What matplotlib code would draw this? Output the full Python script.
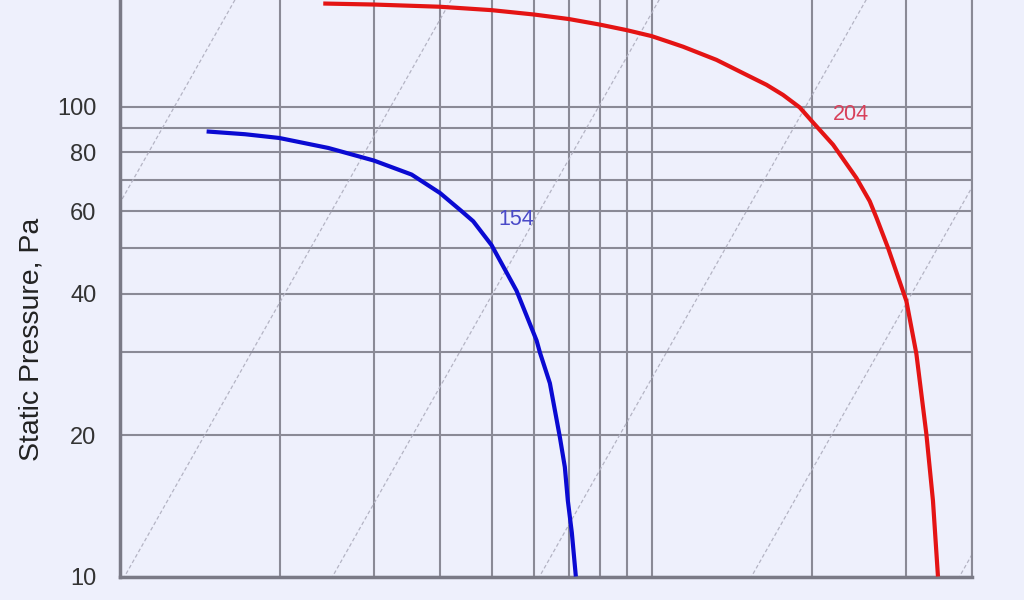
import matplotlib
matplotlib.use("Agg")
import matplotlib.pyplot as plt
import numpy as np

plt.rcParams['font.family'] = ['Liberation Sans', 'DejaVu Sans']

# ---- data ----
x_grid = [100, 200, 300, 400, 500, 600, 700, 800, 900, 1000, 2000, 3000, 4000]
y_grid = [10, 20, 30, 40, 50, 60, 70, 80, 90, 100]
y_tick_labels = ['10', '20', '', '40', '', '60', '', '80', '', '100']

fan154_q = [145.5, 171.8, 199.3, 246.4, 300.2, 353.4, 399.6, 438.8, 461.5,
            499.6, 556.8, 607.3, 616.0, 643.2, 671.6, 686.2, 695.2, 707.3, 719.7]
fan154_p = [88.7, 87.5, 85.9, 81.8, 76.9, 71.8, 65.6, 60.0, 57.1,
            50.8, 40.6, 31.8, 30.0, 25.8, 19.8, 17.1, 14.5, 12.4, 10.0]

fan204_q = [241.1, 299.3, 399.6, 499.6, 600.1, 699.2, 796.0, 896.4, 998.7,
            1073, 1145, 1323, 1529, 1643, 1765, 1897, 2001, 2192, 2425, 2569,
            2645, 2781, 3011, 3144, 3283, 3378, 3452]
fan204_p = [166.1, 165.3, 163.5, 160.8, 157.4, 153.9, 149.9, 145.8, 141.6,
            137.8, 134.4, 126.0, 116.1, 111.5, 106.1, 99.8, 93.2, 83.1, 70.6,
            63.0, 58.1, 50.1, 38.6, 29.8, 20.1, 14.5, 10.0]

# system curves P = 10 * (Q / q0)^2, q0 = airflow where each meets 10 Pa
system_q0 = [40, 102, 251, 615, 1540, 3790]

label_154 = (555, 57.7, '154')
label_204 = (2364, 96.6, '204')

ylabel = 'Static Pressure, Pa'

# ---- figure ----
bg = '#eef0fc'
fig = plt.figure(figsize=(10.24, 6.0), dpi=100, facecolor=bg)
ax = fig.add_axes([120 / 1024, 23.5 / 600, 852 / 1024, 576.5 / 600])
ax.set_facecolor(bg)
ax.set_xscale('log')
ax.set_yscale('log')
ax.set_xlim(100, 4000)
ax.set_ylim(10, 169)

gcol = '#8a8a96'
for xv in x_grid:
    ax.axvline(xv, color=gcol, lw=1.5, zorder=1)
for yv in y_grid:
    ax.axhline(yv, color=gcol, lw=1.5, zorder=1)

# system curves (dashed)
qq = np.logspace(np.log10(20), np.log10(5000), 200)
for q0 in system_q0:
    ax.plot(qq, 10 * (qq / q0) ** 2, color='#b4b4c4', lw=0.9,
            ls=(0, (3, 2)), zorder=2)

ax.plot(fan154_q, fan154_p, color='#0a0ad2', lw=3.0, zorder=4,
        solid_capstyle='butt', solid_joinstyle='round')
ax.plot(fan204_q, fan204_p, color='#e41414', lw=3.0, zorder=4,
        solid_capstyle='butt', solid_joinstyle='round')

ax.text(label_154[0], label_154[1], label_154[2], color='#4a4ac8',
        fontsize=15.5, ha='center', va='center', zorder=5)
ax.text(label_204[0], label_204[1], label_204[2], color='#d8405a',
        fontsize=15.5, ha='center', va='center', zorder=5)

ax.minorticks_off()
ax.set_xticks(x_grid)
ax.set_xticklabels([''] * len(x_grid))
ax.set_yticks(y_grid)
ax.set_yticklabels(y_tick_labels)
ax.minorticks_off()
ax.tick_params(axis='both', length=0)
ax.tick_params(axis='y', pad=17, labelsize=17, labelcolor='#333333')

ax.spines['top'].set_visible(False)
ax.spines['right'].set_color(gcol)
ax.spines['right'].set_linewidth(1.5)
ax.spines['left'].set_color('#7a7a86')
ax.spines['left'].set_linewidth(2.5)
ax.spines['bottom'].set_color('#7a7a86')
ax.spines['bottom'].set_linewidth(2.5)

fig.text(32 / 1024, 1 - 339 / 600, ylabel, rotation=90, ha='center',
         va='center', fontsize=20.5, color='#222222')

fig.savefig('out.png', dpi=100, facecolor=bg)
